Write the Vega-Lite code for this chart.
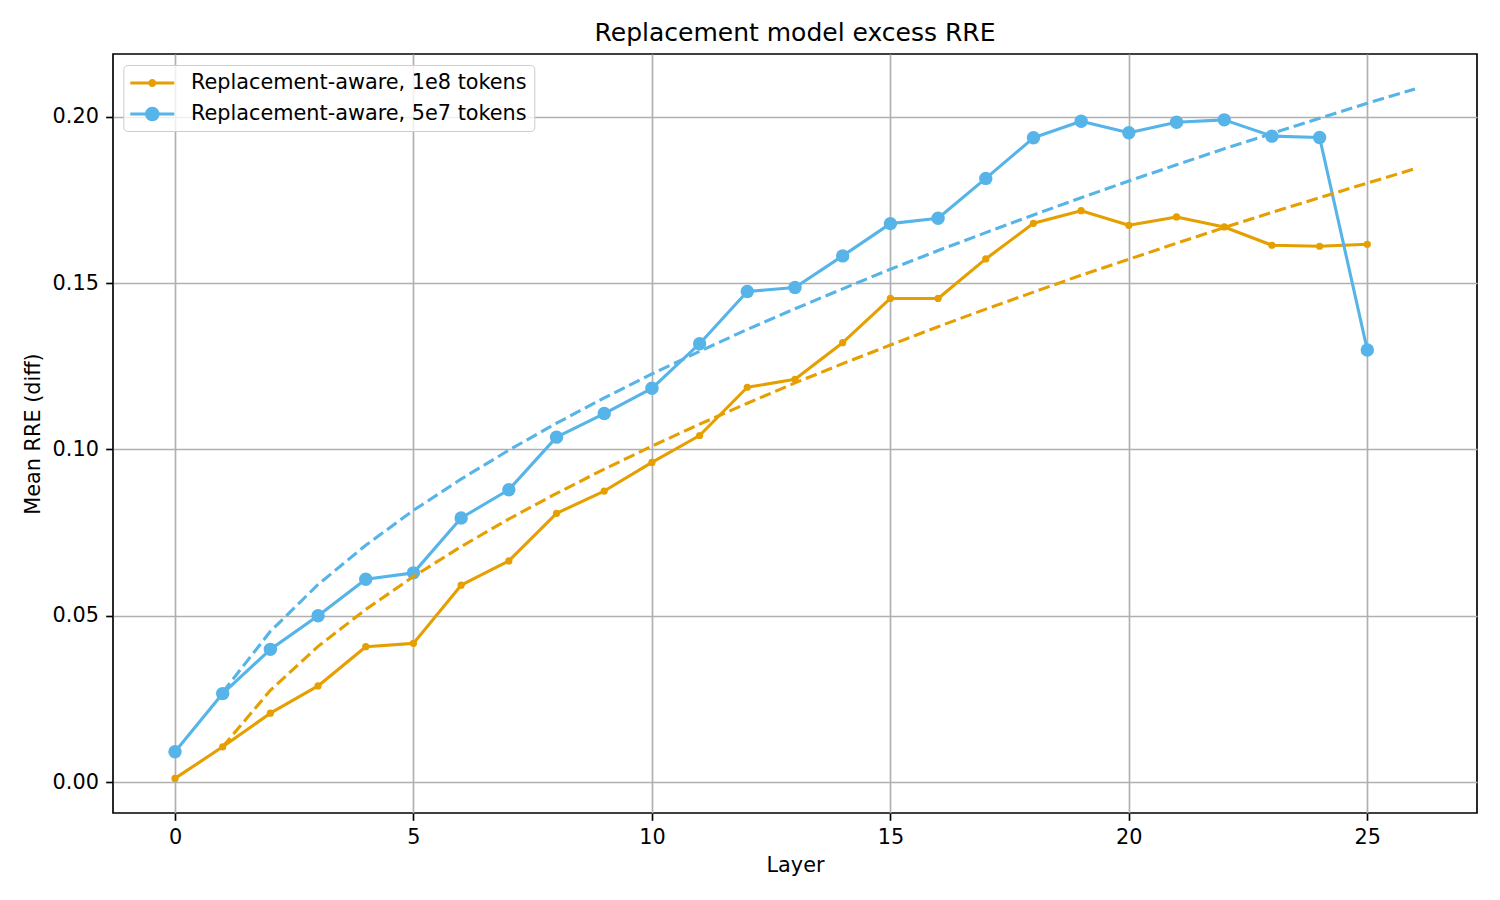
{
  "$schema": "https://vega.github.io/schema/vega-lite/v6.json",
  "width": 1364,
  "height": 759,
  "autosize": {"type": "none"},
  "padding": {"left": 113, "top": 54, "right": 23, "bottom": 87},
  "background": "white",
  "title": {
    "text": "Replacement model excess RRE",
    "fontSize": 25,
    "font": "DejaVu Sans",
    "fontWeight": "normal",
    "color": "black",
    "anchor": "middle",
    "baseline": "alphabetic",
    "offset": 12,
    "dy": 24
  },
  "config": {
    "font": "DejaVu Sans",
    "view": {"stroke": "black", "strokeWidth": 1.67},
    "axis": {
      "domain": false,
      "grid": true,
      "gridColor": "#b0b0b0",
      "gridWidth": 1.67,
      "gridOpacity": 1,
      "tickColor": "black",
      "tickWidth": 1.67,
      "tickSize": 7.3,
      "labelFont": "DejaVu Sans",
      "labelFontSize": 20.8,
      "labelColor": "black",
      "labelPadding": 7.3,
      "titleFont": "DejaVu Sans",
      "titleFontSize": 20.8,
      "titleFontWeight": "normal",
      "titleColor": "black"
    }
  },
  "datasets": {
    "points": [
      {"layer": 0, "rre": 0.0011, "series": "Replacement-aware, 1e8 tokens"},
      {"layer": 1, "rre": 0.0106, "series": "Replacement-aware, 1e8 tokens"},
      {"layer": 2, "rre": 0.0207, "series": "Replacement-aware, 1e8 tokens"},
      {"layer": 3, "rre": 0.0289, "series": "Replacement-aware, 1e8 tokens"},
      {"layer": 4, "rre": 0.0407, "series": "Replacement-aware, 1e8 tokens"},
      {"layer": 5, "rre": 0.0417, "series": "Replacement-aware, 1e8 tokens"},
      {"layer": 6, "rre": 0.0592, "series": "Replacement-aware, 1e8 tokens"},
      {"layer": 7, "rre": 0.0665, "series": "Replacement-aware, 1e8 tokens"},
      {"layer": 8, "rre": 0.0808, "series": "Replacement-aware, 1e8 tokens"},
      {"layer": 9, "rre": 0.0875, "series": "Replacement-aware, 1e8 tokens"},
      {"layer": 10, "rre": 0.0961, "series": "Replacement-aware, 1e8 tokens"},
      {"layer": 11, "rre": 0.1042, "series": "Replacement-aware, 1e8 tokens"},
      {"layer": 12, "rre": 0.1187, "series": "Replacement-aware, 1e8 tokens"},
      {"layer": 13, "rre": 0.1211, "series": "Replacement-aware, 1e8 tokens"},
      {"layer": 14, "rre": 0.1321, "series": "Replacement-aware, 1e8 tokens"},
      {"layer": 15, "rre": 0.1454, "series": "Replacement-aware, 1e8 tokens"},
      {"layer": 16, "rre": 0.1454, "series": "Replacement-aware, 1e8 tokens"},
      {"layer": 17, "rre": 0.1573, "series": "Replacement-aware, 1e8 tokens"},
      {"layer": 18, "rre": 0.1680, "series": "Replacement-aware, 1e8 tokens"},
      {"layer": 19, "rre": 0.1718, "series": "Replacement-aware, 1e8 tokens"},
      {"layer": 20, "rre": 0.1674, "series": "Replacement-aware, 1e8 tokens"},
      {"layer": 21, "rre": 0.1699, "series": "Replacement-aware, 1e8 tokens"},
      {"layer": 22, "rre": 0.1669, "series": "Replacement-aware, 1e8 tokens"},
      {"layer": 23, "rre": 0.1614, "series": "Replacement-aware, 1e8 tokens"},
      {"layer": 24, "rre": 0.1611, "series": "Replacement-aware, 1e8 tokens"},
      {"layer": 25, "rre": 0.1617, "series": "Replacement-aware, 1e8 tokens"},
      {"layer": 0, "rre": 0.0091, "series": "Replacement-aware, 5e7 tokens"},
      {"layer": 1, "rre": 0.0266, "series": "Replacement-aware, 5e7 tokens"},
      {"layer": 2, "rre": 0.0399, "series": "Replacement-aware, 5e7 tokens"},
      {"layer": 3, "rre": 0.0500, "series": "Replacement-aware, 5e7 tokens"},
      {"layer": 4, "rre": 0.0610, "series": "Replacement-aware, 5e7 tokens"},
      {"layer": 5, "rre": 0.0629, "series": "Replacement-aware, 5e7 tokens"},
      {"layer": 6, "rre": 0.0794, "series": "Replacement-aware, 5e7 tokens"},
      {"layer": 7, "rre": 0.0879, "series": "Replacement-aware, 5e7 tokens"},
      {"layer": 8, "rre": 0.1037, "series": "Replacement-aware, 5e7 tokens"},
      {"layer": 9, "rre": 0.1108, "series": "Replacement-aware, 5e7 tokens"},
      {"layer": 10, "rre": 0.1184, "series": "Replacement-aware, 5e7 tokens"},
      {"layer": 11, "rre": 0.1318, "series": "Replacement-aware, 5e7 tokens"},
      {"layer": 12, "rre": 0.1475, "series": "Replacement-aware, 5e7 tokens"},
      {"layer": 13, "rre": 0.1487, "series": "Replacement-aware, 5e7 tokens"},
      {"layer": 14, "rre": 0.1582, "series": "Replacement-aware, 5e7 tokens"},
      {"layer": 15, "rre": 0.1679, "series": "Replacement-aware, 5e7 tokens"},
      {"layer": 16, "rre": 0.1695, "series": "Replacement-aware, 5e7 tokens"},
      {"layer": 17, "rre": 0.1815, "series": "Replacement-aware, 5e7 tokens"},
      {"layer": 18, "rre": 0.1937, "series": "Replacement-aware, 5e7 tokens"},
      {"layer": 19, "rre": 0.1987, "series": "Replacement-aware, 5e7 tokens"},
      {"layer": 20, "rre": 0.1952, "series": "Replacement-aware, 5e7 tokens"},
      {"layer": 21, "rre": 0.1984, "series": "Replacement-aware, 5e7 tokens"},
      {"layer": 22, "rre": 0.1991, "series": "Replacement-aware, 5e7 tokens"},
      {"layer": 23, "rre": 0.1942, "series": "Replacement-aware, 5e7 tokens"},
      {"layer": 24, "rre": 0.1938, "series": "Replacement-aware, 5e7 tokens"},
      {"layer": 25, "rre": 0.1299, "series": "Replacement-aware, 5e7 tokens"}
    ],
    "fits": [
      {"layer": 1, "fit": 0.0106, "series": "Replacement-aware, 1e8 tokens"},
      {"layer": 2, "fit": 0.0276, "series": "Replacement-aware, 1e8 tokens"},
      {"layer": 3, "fit": 0.0408, "series": "Replacement-aware, 1e8 tokens"},
      {"layer": 4, "fit": 0.0519, "series": "Replacement-aware, 1e8 tokens"},
      {"layer": 5, "fit": 0.0618, "series": "Replacement-aware, 1e8 tokens"},
      {"layer": 6, "fit": 0.0708, "series": "Replacement-aware, 1e8 tokens"},
      {"layer": 7, "fit": 0.0791, "series": "Replacement-aware, 1e8 tokens"},
      {"layer": 8, "fit": 0.0868, "series": "Replacement-aware, 1e8 tokens"},
      {"layer": 9, "fit": 0.0941, "series": "Replacement-aware, 1e8 tokens"},
      {"layer": 10, "fit": 0.1010, "series": "Replacement-aware, 1e8 tokens"},
      {"layer": 11, "fit": 0.1076, "series": "Replacement-aware, 1e8 tokens"},
      {"layer": 12, "fit": 0.1139, "series": "Replacement-aware, 1e8 tokens"},
      {"layer": 13, "fit": 0.1200, "series": "Replacement-aware, 1e8 tokens"},
      {"layer": 14, "fit": 0.1258, "series": "Replacement-aware, 1e8 tokens"},
      {"layer": 15, "fit": 0.1314, "series": "Replacement-aware, 1e8 tokens"},
      {"layer": 16, "fit": 0.1369, "series": "Replacement-aware, 1e8 tokens"},
      {"layer": 17, "fit": 0.1422, "series": "Replacement-aware, 1e8 tokens"},
      {"layer": 18, "fit": 0.1473, "series": "Replacement-aware, 1e8 tokens"},
      {"layer": 19, "fit": 0.1524, "series": "Replacement-aware, 1e8 tokens"},
      {"layer": 20, "fit": 0.1572, "series": "Replacement-aware, 1e8 tokens"},
      {"layer": 21, "fit": 0.1620, "series": "Replacement-aware, 1e8 tokens"},
      {"layer": 22, "fit": 0.1667, "series": "Replacement-aware, 1e8 tokens"},
      {"layer": 23, "fit": 0.1713, "series": "Replacement-aware, 1e8 tokens"},
      {"layer": 24, "fit": 0.1757, "series": "Replacement-aware, 1e8 tokens"},
      {"layer": 25, "fit": 0.1801, "series": "Replacement-aware, 1e8 tokens"},
      {"layer": 26, "fit": 0.1844, "series": "Replacement-aware, 1e8 tokens"},
      {"layer": 1, "fit": 0.0270, "series": "Replacement-aware, 5e7 tokens"},
      {"layer": 2, "fit": 0.0453, "series": "Replacement-aware, 5e7 tokens"},
      {"layer": 3, "fit": 0.0594, "series": "Replacement-aware, 5e7 tokens"},
      {"layer": 4, "fit": 0.0712, "series": "Replacement-aware, 5e7 tokens"},
      {"layer": 5, "fit": 0.0817, "series": "Replacement-aware, 5e7 tokens"},
      {"layer": 6, "fit": 0.0911, "series": "Replacement-aware, 5e7 tokens"},
      {"layer": 7, "fit": 0.0998, "series": "Replacement-aware, 5e7 tokens"},
      {"layer": 8, "fit": 0.1079, "series": "Replacement-aware, 5e7 tokens"},
      {"layer": 9, "fit": 0.1155, "series": "Replacement-aware, 5e7 tokens"},
      {"layer": 10, "fit": 0.1227, "series": "Replacement-aware, 5e7 tokens"},
      {"layer": 11, "fit": 0.1295, "series": "Replacement-aware, 5e7 tokens"},
      {"layer": 12, "fit": 0.1361, "series": "Replacement-aware, 5e7 tokens"},
      {"layer": 13, "fit": 0.1423, "series": "Replacement-aware, 5e7 tokens"},
      {"layer": 14, "fit": 0.1483, "series": "Replacement-aware, 5e7 tokens"},
      {"layer": 15, "fit": 0.1542, "series": "Replacement-aware, 5e7 tokens"},
      {"layer": 16, "fit": 0.1598, "series": "Replacement-aware, 5e7 tokens"},
      {"layer": 17, "fit": 0.1652, "series": "Replacement-aware, 5e7 tokens"},
      {"layer": 18, "fit": 0.1705, "series": "Replacement-aware, 5e7 tokens"},
      {"layer": 19, "fit": 0.1757, "series": "Replacement-aware, 5e7 tokens"},
      {"layer": 20, "fit": 0.1807, "series": "Replacement-aware, 5e7 tokens"},
      {"layer": 21, "fit": 0.1856, "series": "Replacement-aware, 5e7 tokens"},
      {"layer": 22, "fit": 0.1904, "series": "Replacement-aware, 5e7 tokens"},
      {"layer": 23, "fit": 0.1950, "series": "Replacement-aware, 5e7 tokens"},
      {"layer": 24, "fit": 0.1996, "series": "Replacement-aware, 5e7 tokens"},
      {"layer": 25, "fit": 0.2041, "series": "Replacement-aware, 5e7 tokens"},
      {"layer": 26, "fit": 0.2084, "series": "Replacement-aware, 5e7 tokens"}
    ]
  },
  "encoding": {
    "x": {
      "field": "layer",
      "type": "quantitative",
      "title": "Layer",
      "scale": {"domain": [-1.3, 27.3], "nice": false, "zero": false},
      "axis": {"values": [0, 5, 10, 15, 20, 25], "format": "d", "titlePadding": 8}
    }
  },
  "layer": [
    {
      "data": {"name": "points"},
      "transform": [{"filter": "datum.layer < 0"}],
      "mark": {"type": "point", "filled": true, "size": 484},
      "encoding": {
        "y": {
          "field": "rre",
          "type": "quantitative",
          "title": "Mean RRE (diff)",
          "scale": {"domain": [-0.0093, 0.2189], "nice": false, "zero": false},
          "axis": {"values": [0, 0.05, 0.1, 0.15, 0.2], "format": ".2f", "titlePadding": 9}
        },
        "color": {
          "field": "series",
          "type": "nominal",
          "scale": {
            "domain": ["Replacement-aware, 1e8 tokens", "Replacement-aware, 5e7 tokens"],
            "range": ["#E69F00", "#56B4E9"]
          },
          "legend": {
            "title": null,
            "orient": "none",
            "legendX": 10.3,
            "legendY": 11,
            "padding": 7,
            "rowPadding": 10,
            "labelOffset": 38.7,
            "labelFontSize": 20.8,
            "labelFont": "DejaVu Sans",
            "labelColor": "black",
            "labelLimit": 600,
            "symbolSize": 484,
            "symbolStrokeWidth": 0,
            "symbolOpacity": 1,
            "fillColor": "rgba(255,255,255,0.8)",
            "strokeColor": "#cccccc",
            "cornerRadius": 4
          }
        },
        "shape": {
          "field": "series",
          "type": "nominal",
          "scale": {
            "domain": ["Replacement-aware, 1e8 tokens", "Replacement-aware, 5e7 tokens"],
            "range": [
              "M-1,-0.14H0.7V0.14H-1ZM1.3,-0.14H3V0.14H1.3ZM0.636,0A0.364,0.364 0 1,1 1.364,0A0.364,0.364 0 1,1 0.636,0Z",
              "M-1,-0.14H0.4V0.14H-1ZM1.6,-0.14H3V0.14H1.6ZM0.34,0A0.66,0.66 0 1,1 1.66,0A0.66,0.66 0 1,1 0.34,0Z"
            ]
          },
          "legend": {
            "title": null,
            "orient": "none",
            "legendX": 10.3,
            "legendY": 11,
            "padding": 7,
            "rowPadding": 10,
            "labelOffset": 38.7,
            "labelFontSize": 20.8,
            "labelFont": "DejaVu Sans",
            "labelColor": "black",
            "labelLimit": 600,
            "symbolSize": 484,
            "symbolStrokeWidth": 0,
            "symbolOpacity": 1,
            "fillColor": "rgba(255,255,255,0.8)",
            "strokeColor": "#cccccc",
            "cornerRadius": 4
          }
        }
      }
    },
    {
      "data": {"name": "points"},
      "mark": {"type": "line", "strokeWidth": 3.1, "strokeJoin": "round"},
      "encoding": {
        "y": {"field": "rre", "type": "quantitative"},
        "color": {"field": "series", "type": "nominal", "legend": null}
      }
    },
    {
      "data": {"name": "points"},
      "transform": [{"filter": "datum.series === 'Replacement-aware, 1e8 tokens'"}],
      "mark": {"type": "point", "filled": true, "opacity": 1, "shape": "circle", "size": 52},
      "encoding": {
        "y": {"field": "rre", "type": "quantitative"},
        "color": {"field": "series", "type": "nominal", "legend": null}
      }
    },
    {
      "data": {"name": "points"},
      "transform": [{"filter": "datum.series === 'Replacement-aware, 5e7 tokens'"}],
      "mark": {"type": "point", "filled": true, "opacity": 1, "shape": "circle", "size": 180},
      "encoding": {
        "y": {"field": "rre", "type": "quantitative"},
        "color": {"field": "series", "type": "nominal", "legend": null}
      }
    },
    {
      "data": {"name": "fits"},
      "mark": {"type": "line", "strokeWidth": 3.1, "strokeDash": [11.6, 5], "strokeCap": "butt"},
      "encoding": {
        "y": {"field": "fit", "type": "quantitative"},
        "color": {"field": "series", "type": "nominal", "legend": null}
      }
    }
  ]
}
